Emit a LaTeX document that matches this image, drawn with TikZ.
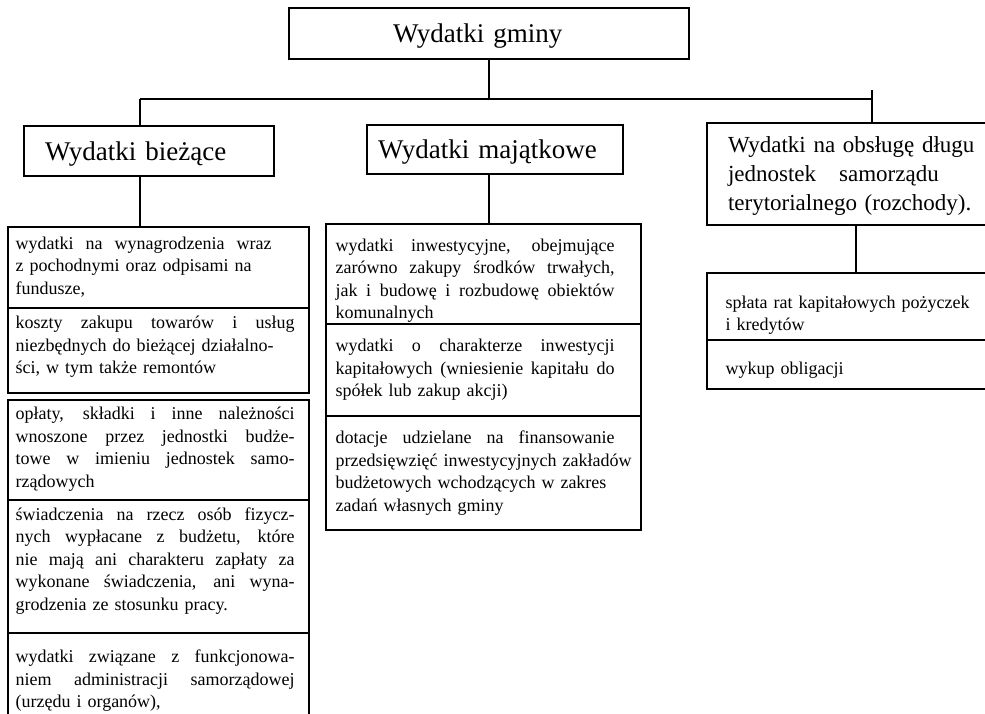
\documentclass[tikz,border=0pt]{standalone}
\usepackage{fontspec}
\setmainfont{Liberation Serif}
\newcommand{\pelna}[1]{\noindent\hbox to 279pt{\spaceskip=0.25em plus 1fil\xspaceskip=0.25em plus 1fil\strut #1}\par}
\newcommand{\linia}[1]{\noindent\hbox{\strut #1}\par}

\begin{document}
\begin{tikzpicture}[x=1pt,y=-1pt,line width=1.2pt,
    ramka/.style={draw,inner sep=0pt,outer sep=0pt,anchor=north west},
    tekst/.style={anchor=north west,inner sep=0pt,text width=279pt,font=\fontsize{18}{22.5}\selectfont},
    naglowek/.style={draw,outer sep=0pt,align=left,font=\fontsize{27}{32}\selectfont},
    jedna/.style={text height=21.6pt,text depth=3.2pt}]
        \fill[white] (0,0) rectangle (985,714);
        \useasboundingbox (0,0) rectangle (985,714);
        % naglowki
        \node[naglowek,jedna,minimum height=51pt,text width=192pt,inner xsep=104pt] (gmina) at (489,33.5) {Wydatki gminy};
        \node[naglowek,jedna,minimum height=50pt,text width=208pt,inner xsep=21pt] (biez) at (149,151) {Wydatki bieżące};
        \node[naglowek,jedna,minimum height=49pt,text width=234pt,inner xsep=11pt] (maj) at (495,149.5) {Wydatki majątkowe};
        \node[naglowek,font=\fontsize{23}{29}\selectfont,minimum height=102pt,text width=251pt,inner xsep=21pt] (dlug) at (853.5,174)
            {\strut Wydatki na obsługę długu\\ jednostek\hspace{1em}samorządu\\ terytorialnego (rozchody).};
        % ramki
        \node[ramka,minimum width=301pt,minimum height=81pt] (lb1) at (8,227) {};
        \node[ramka,minimum width=301pt,minimum height=85pt] (lb2) at (8,308) {};
        \node[ramka,minimum width=301pt,minimum height=100pt] (lb3) at (8,400) {};
        \node[ramka,minimum width=301pt,minimum height=133pt] (lb4) at (8,500) {};
        \node[ramka,minimum width=301pt,minimum height=90pt] (lb5) at (8,633) {};
        \node[ramka,minimum width=315pt,minimum height=100pt] (mj1) at (326,224) {};
        \node[ramka,minimum width=315pt,minimum height=92pt] (mj2) at (326,324) {};
        \node[ramka,minimum width=315pt,minimum height=114pt] (mj3) at (326,416) {};
        \node[ramka,minimum width=290pt,minimum height=67pt] (ob1) at (707,273) {};
        \node[ramka,minimum width=290pt,minimum height=49pt] (ob2) at (707,340) {};
        % teksty
        \node[tekst] (l1) at (15,233) {\linia{wydatki\ \ na\ \ wynagrodzenia\ \ wraz}\linia{z pochodnymi oraz odpisami na}\linia{fundusze,}};
        \node[tekst] (l2) at (15,312.5) {\pelna{koszty zakupu towarów i usług}\linia{niezbędnych do bieżącej działalno-}\linia{ści, w tym także remontów}};
        \node[tekst] (l3) at (15,403.5) {\pelna{opłaty, składki i inne należności}\pelna{wnoszone przez jednostki budże-}\pelna{towe w imieniu jednostek samo-}\linia{rządowych}};
        \node[tekst] (l4) at (15,504) {\pelna{świadczenia na rzecz osób fizycz-}\pelna{nych wypłacane z budżetu, które}\pelna{nie mają ani charakteru zapłaty za}\pelna{wykonane świadczenia, ani wyna-}\linia{grodzenia ze stosunku pracy.}};
        \node[tekst] (l5) at (15,646.5) {\pelna{wydatki związane z funkcjonowa-}\pelna{niem administracji samorządowej}\linia{(urzędu i organów),}};
        \node[tekst] (m1) at (335,235) {\pelna{wydatki inwestycyjne, obejmujące}\pelna{zarówno zakupy środków trwałych,}\pelna{jak i budowę i rozbudowę obiektów}\linia{komunalnych}};
        \node[tekst] (m2) at (335,335.5) {\pelna{wydatki o charakterze inwestycji}\pelna{kapitałowych (wniesienie kapitału do}\linia{spółek lub zakup akcji)}};
        \node[tekst] (m3) at (335,427.5) {\pelna{dotacje udzielane na finansowanie}\linia{przedsięwzięć inwestycyjnych zakładów}\linia{budżetowych wchodzących w zakres}\linia{zadań własnych gminy}};
        \node[tekst] (o1) at (725,292) {\linia{spłata rat kapitałowych pożyczek}\linia{i kredytów}};
        \node[tekst] (o2) at (725,358) {\linia{wykup obligacji}};
        % polaczenia
        \coordinate (lewy) at (140,99);
        \coordinate (prawy) at (872,99);
        \coordinate (haczyk) at (872,90);
        \coordinate (pion) at (856,0);
        \draw (gmina.south) -- (gmina.south |- lewy);
        \draw (lewy) -- (prawy);
        \draw (haczyk) -- (haczyk |- dlug.north);
        \draw (lewy) -- (lewy |- biez.north);
        \draw (lewy |- biez.south) -- (lewy |- lb1.north);
        \draw (gmina.south |- maj.south) -- (gmina.south |- mj1.north);
        \draw (pion |- dlug.south) -- (pion |- ob1.north);
    \end{tikzpicture}
\end{document}
